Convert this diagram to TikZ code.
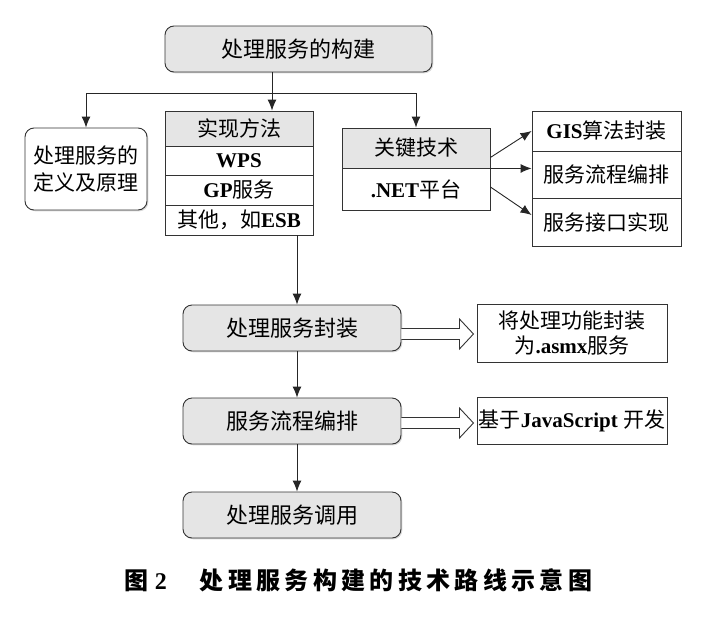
\documentclass[tikz,border=0pt]{standalone}
\usepackage{fontspec}
\setmainfont{Liberation Serif}
\newfontfamily\cjk{Noto Sans CJK SC}
\newcommand{\zh}[1]{{\cjk\mdseries #1}}
\usetikzlibrary{positioning,arrows.meta,shadows,calc}

\begin{document}
\begin{tikzpicture}[x=1pt,y=-1pt,
  box/.style={draw=black!80,line width=0.9pt,fill=white,inner sep=0pt,align=center,
    font=\fontsize{21}{27}\selectfont\bfseries,
    drop shadow={shadow xshift=1.3pt,shadow yshift=-1.3pt,opacity=0.3}},
  head/.style={box,fill=gray!20},
  round/.style={box,rounded corners=9pt,fill=gray!20,font=\fontsize{22}{27}\selectfont\bfseries},
  conn/.style={->,>={Latex[length=11pt,width=9pt]},draw=black!85,line width=0.9pt},
  fat/.style={draw=black!80,line width=0.9pt,fill=white,line join=miter}]
\useasboundingbox (0,0) rectangle (714,616);

\node[round,minimum width=267pt,minimum height=46pt] (top) at (298.5,49) {\zh{处理服务的构建}};

\node[box,rounded corners=9pt,minimum width=122pt,minimum height=82pt] (def) at (86,169) {\zh{处理服务的}\\\zh{定义及原理}};

\node[head,minimum width=148pt,minimum height=35pt] (impl) at (239,128.5) {\zh{实现方法}};
\node[box,minimum width=148pt,minimum height=29pt] (wps) at (239,160.5) {WPS};
\node[box,minimum width=148pt,minimum height=30pt] (gp) at (239,190) {GP\zh{服务}};
\node[box,minimum width=148pt,minimum height=30pt] (esb) at (239,220) {\zh{其他，如}ESB};

\node[head,minimum width=148pt,minimum height=40pt] (key) at (416,148) {\zh{关键技术}};
\node[box,minimum width=148pt,minimum height=42pt] (net) at (416,189) {.NET\zh{平台}};

\node[box,minimum width=149pt,minimum height=40pt] (gis) at (606.5,131) {GIS\zh{算法封装}};
\node[box,minimum width=149pt,minimum height=47pt] (srv) at (606.5,174.5) {\zh{服务流程编排}};
\node[box,minimum width=149pt,minimum height=48pt] (api) at (606.5,222) {\zh{服务接口实现}};

\node[round,minimum width=218pt,minimum height=46pt] (enc) at (292,328) {\zh{处理服务封装}};
\node[round,minimum width=218pt,minimum height=46pt] (flow) at (292,421) {\zh{服务流程编排}};
\node[round,minimum width=218pt,minimum height=46pt] (call) at (292,515) {\zh{处理服务调用}};

\node[box,minimum width=190pt,minimum height=58pt,font=\fontsize{21}{25}\selectfont\bfseries] (asmx) at (572,333) {\zh{将处理功能封装}\\\zh{为}.asmx\zh{服务}};
\node[box,minimum width=190pt,minimum height=47pt] (js) at (572,420.5) {\zh{基于}JavaScript \zh{开发}};

\node[font=\cjk\bfseries\fontsize{24}{24}\selectfont] (cap) at (358.5,580) {图\hspace{6pt}{\rmfamily 2}\hspace{33pt}{\addfontfeatures{LetterSpace=18}处理服务构建的技术路线示意图}};

% connectors
\coordinate (split) at (272,93);
\draw[conn] (split |- top.south) -- (split |- impl.north);
\draw[conn] (split) -| (def.north);
\draw[conn] (split) -| (key.north);

\draw[conn] ($(key.south east)+(0,-11)$) -- (gis.west);
\draw[conn] (key.south east) -- (key.south east -| srv.west);
\draw[conn] ($(net.east)+(0,-2)$) -- ($(api.west)+(0,-7)$);

\coordinate (trunk) at (297,0);
\draw[conn] (trunk |- esb.south) -- (trunk |- enc.north);
\draw[conn] (trunk |- enc.south) -- (trunk |- flow.north);
\draw[conn] (trunk |- flow.south) -- (trunk |- call.north);

% hollow arrows
\draw[fat] ($(enc.east)+(0,0.5)$) -- ++(58,0) -- ++(0,-9.5) -- ++(14,15) -- ++(-14,15) -- ++(0,-9.5) -- ++(-58,0);
\draw[fat] ($(flow.east)+(0,-3.5)$) -- ++(58,0) -- ++(0,-9.5) -- ++(14,15) -- ++(-14,15) -- ++(0,-9.5) -- ++(-58,0);

\end{tikzpicture}
\end{document}
